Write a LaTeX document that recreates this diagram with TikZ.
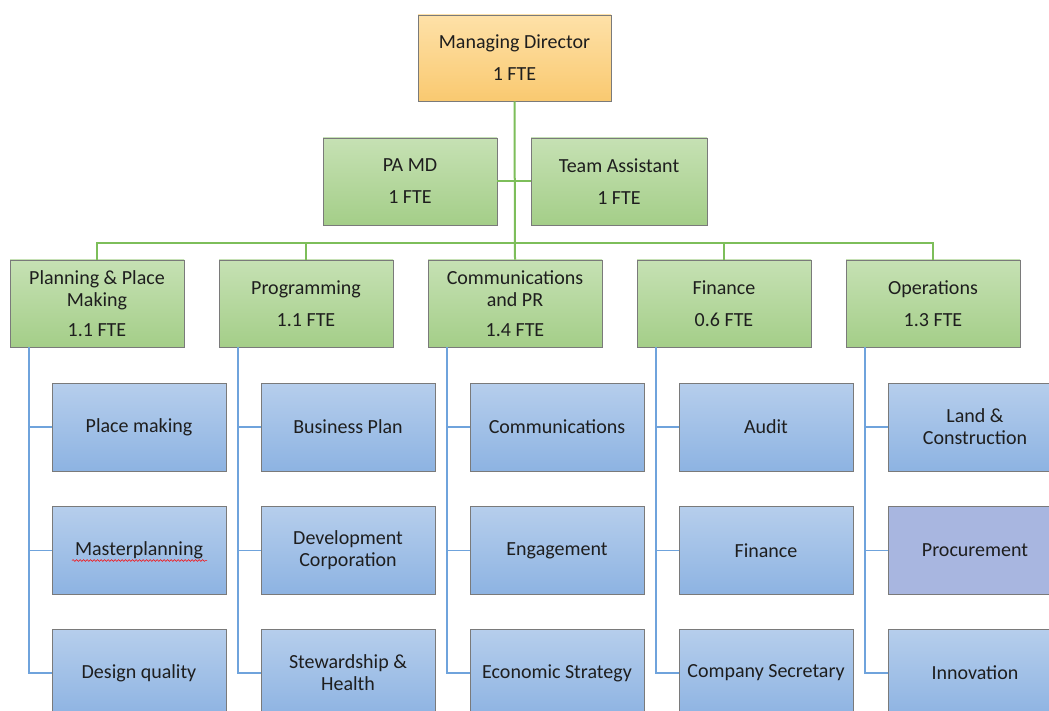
\documentclass[tikz,border=0pt]{standalone}
\usepackage{fontspec}
\setmainfont{Carlito}
\usetikzlibrary{decorations.pathmorphing}
\definecolor{orgtop}{HTML}{FEE1A8}
\definecolor{orgbot}{HTML}{F9C970}
\definecolor{grntop}{HTML}{C6E1B4}
\definecolor{grnbot}{HTML}{A4CE88}
\definecolor{blutop}{HTML}{B6CEEC}
\definecolor{blubot}{HTML}{8DB3E2}
\definecolor{purfill}{HTML}{A8B6E0}
\definecolor{bordcol}{HTML}{7A7A7A}
\definecolor{glinecol}{HTML}{7DBE5A}
\definecolor{blinecol}{HTML}{6FA3DC}
\definecolor{txtcol}{HTML}{1E1E1E}
\tikzset{
  boxbase/.style={draw=bordcol, line width=0.7pt, minimum width=174pt, inner sep=0pt,
    align=center, text=txtcol, font=\fontsize{20}{22}\selectfont},
  orgbox/.style={boxbase, minimum width=193pt, minimum height=86pt, top color=orgtop, bottom color=orgbot},
  grnbox/.style={boxbase, minimum height=87pt, top color=grntop, bottom color=grnbot},
  blubox/.style={boxbase, minimum height=88pt, top color=blutop, bottom color=blubot},
  purbox/.style={boxbase, minimum height=88pt, fill=purfill},
  gline/.style={draw=glinecol, line width=2pt},
  bline/.style={draw=blinecol, line width=1.8pt},
}
\begin{document}
\begin{tikzpicture}[x=1pt,y=-1pt]
\clip (0,0) rectangle (1049,711);
\fill[white] (0,0) rectangle (1049,711);

% nodes
\node[orgbox] (md) at (514.5,58) {Managing Director\\[10pt]1 FTE};
\node[grnbox] (pa) at (410,181.5) {PA MD\\[10pt]1 FTE};
\node[grnbox, minimum width=176pt] (ta) at (619,181.5) {Team Assistant\\[10pt]1 FTE};

\node[grnbox] (g1) at (97,303.5) {Planning \& Place\\Making\\[8pt]1.1 FTE};
\node[grnbox] (g2) at (306,303.5) {Programming\\[10pt]1.1 FTE};
\node[grnbox] (g3) at (515,303.5) {Communications\\and PR\\[8pt]1.4 FTE};
\node[grnbox] (g4) at (724,303.5) {Finance\\[10pt]0.6 FTE};
\node[grnbox] (g5) at (933,303.5) {Operations\\[10pt]1.3 FTE};

\node[blubox] (b11) at (139,427) {Place making};
\node[blubox] (b12) at (139,550.5) {Masterplanning};
\node[blubox] (b13) at (139,673) {Design quality};
\node[blubox] (b21) at (348,427) {Business Plan};
\node[blubox] (b22) at (348,550.5) {Development\\Corporation};
\node[blubox] (b23) at (348,673) {Stewardship \&\\Health};
\node[blubox] (b31) at (557,427) {Communications};
\node[blubox] (b32) at (557,550.5) {Engagement};
\node[blubox] (b33) at (557,673) {Economic Strategy};
\node[blubox] (b41) at (766,427) {Audit};
\node[blubox] (b42) at (766,550.5) {Finance};
\node[blubox] (b43) at (766,673) {Company Secretary};
\node[blubox] (b51) at (975,427) {Land \&\\Construction};
\node[purbox] (b52) at (975,550.5) {Procurement};
\node[blubox] (b53) at (975,673) {Innovation};

% spell-check underline
\draw[red, line width=0.5pt, decorate, decoration={snake, amplitude=0.9pt, segment length=3.5pt}]
  ([xshift=-67pt,yshift=-10pt]b12.center) -- ([xshift=68pt,yshift=-10pt]b12.center);

% green connectors
\draw[gline] (md.south) -- (g3.north);
\draw[gline] (pa.east) -- (ta.west);
\draw[gline] (g1.north) -- ++(0,-17) -| (g5.north);
\draw[gline] (g2.north) -- ++(0,-17);
\draw[gline] (g4.north) -- ++(0,-17);

% blue connectors
\foreach \c in {1,2,3,4,5}{
  \draw[bline] ([xshift=19pt]g\c.south west) |- (b\c3.west);
  \draw[bline] (b\c1.west) -- ([xshift=19pt]g\c.south west |- b\c1.west);
  \draw[bline] (b\c2.west) -- ([xshift=19pt]g\c.south west |- b\c2.west);
}
\end{tikzpicture}
\end{document}
